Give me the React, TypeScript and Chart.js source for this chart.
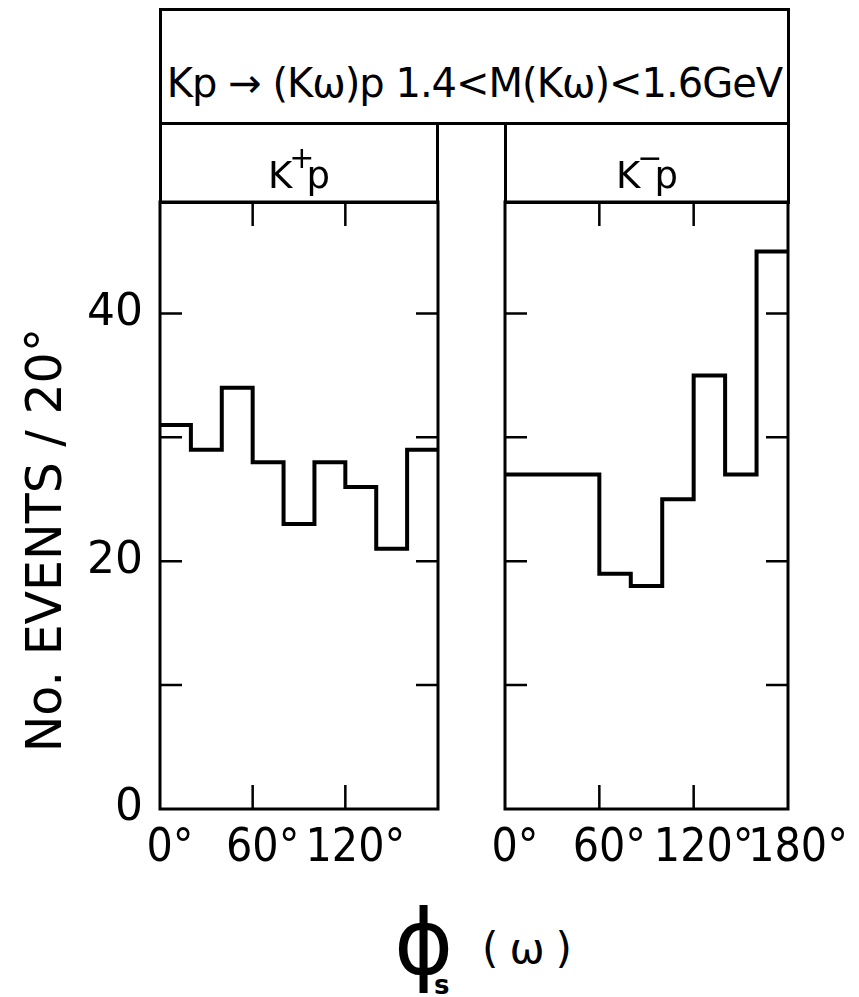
import React, { useEffect, useRef } from 'react';
import { Chart, registerables } from 'chart.js';

Chart.register(...registerables);

// ---- data ----
const BIN_EDGES_DEG = [0, 20, 40, 60, 80, 100, 120, 140, 160, 180];
const KPLUS_P_COUNTS = [31, 29, 34, 28, 23, 28, 26, 21, 29];
const KMINUS_P_COUNTS = [27, 27, 27, 19, 18, 25, 35, 27, 45];
const Y_LABELED_TICKS = [0, 20, 40];
const Y_TICK_MARKS = [10, 20, 30, 40];
const X_TICK_MARKS = [60, 120];
const X_LABELS_LEFT: Record<number, string> = { 0: '0°', 60: '60°', 120: '120°' };
const X_LABELS_RIGHT: Record<number, string> = { 0: '0°', 60: '60°', 120: '120°', 180: '180°' };
const Y_MAX = 49;
const TITLE = 'Kp → (Kω)p  1.4<M(Kω)<1.6GeV';
const Y_TITLE = 'No. EVENTS / 20°';

const FONT = "'DejaVu Sans', sans-serif";
const FONT_COND = "'DejaVu Sans Condensed', 'DejaVu Sans', sans-serif";

const framePlugin = {
  id: 'frameTicks',
  afterDatasetsDraw(chart: any) {
    const { ctx, chartArea } = chart;
    const { left, right, top, bottom } = chartArea;
    const xs = chart.scales.x;
    const ys = chart.scales.y;
    ctx.save();
    ctx.strokeStyle = '#000';
    ctx.lineWidth = 3;
    ctx.strokeRect(left, top, right - left, bottom - top);
    ctx.lineWidth = 2.5;
    const L = 22;
    ctx.beginPath();
    for (const v of Y_TICK_MARKS) {
      const y = ys.getPixelForValue(v);
      ctx.moveTo(left, y);
      ctx.lineTo(left + L, y);
      ctx.moveTo(right, y);
      ctx.lineTo(right - L, y);
    }
    for (const v of X_TICK_MARKS) {
      const x = xs.getPixelForValue(v);
      ctx.moveTo(x, bottom);
      ctx.lineTo(x, bottom - L - 2);
      ctx.moveTo(x, top);
      ctx.lineTo(x, top + L + 2);
    }
    ctx.stroke();
    ctx.restore();
  },
};

function makeConfig(
  counts: number[],
  labels: Record<number, string>,
  showY: boolean,
  padLeft: number,
  padRight: number
): any {
  const points = BIN_EDGES_DEG.map((x, i) => ({ x, y: counts[Math.min(i, counts.length - 1)] }));
  return {
    type: 'line',
    data: {
      datasets: [
        {
          data: points,
          stepped: 'before',
          borderColor: '#000',
          borderWidth: 4,
          pointRadius: 0,
          fill: false,
          borderJoinStyle: 'miter',
          borderCapStyle: 'butt',
        },
      ],
    },
    options: {
      animation: false,
      responsive: false,
      maintainAspectRatio: false,
      events: [],
      layout: { padding: { left: padLeft, right: padRight, top: 12, bottom: 0 } },
      plugins: {
        legend: { display: false },
        tooltip: { enabled: false },
        title: { display: false },
      },
      scales: {
        x: {
          type: 'linear',
          min: 0,
          max: 180,
          grid: { display: false, drawTicks: false },
          border: { display: false },
          ticks: {
            stepSize: 60,
            autoSkip: false,
            maxRotation: 0,
            minRotation: 0,
            includeBounds: false,
            padding: 12,
            labelOffset: 10,
            color: '#000',
            font: { family: FONT_COND, size: 46 },
            callback: (v: number) => labels[v] ?? '',
          },
          afterFit: (s: any) => {
            s.height = 81;
            s.paddingLeft = 0;
            s.paddingRight = 0;
          },
        },
        y: {
          display: showY,
          min: 0,
          max: Y_MAX,
          grid: { display: false, drawTicks: false },
          border: { display: false },
          ticks: {
            stepSize: 10,
            autoSkip: false,
            includeBounds: false,
            padding: 17,
            color: '#000',
            font: { family: FONT, size: 44 },
            callback: (v: number) => (Y_LABELED_TICKS.includes(v) ? String(v) : ''),
          },
          afterFit: (s: any) => {
            s.width = showY ? 160 : 0;
            s.paddingTop = 0;
            s.paddingBottom = 0;
          },
        },
      },
    },
    plugins: [framePlugin],
  };
}

function HistPanel(props: {
  counts: number[];
  labels: Record<number, string>;
  showY: boolean;
  left: number;
  top: number;
  width: number;
  height: number;
  padLeft: number;
  padRight: number;
}) {
  const ref = useRef<HTMLCanvasElement | null>(null);
  useEffect(() => {
    if (!ref.current) return;
    const chart = new Chart(
      ref.current,
      makeConfig(props.counts, props.labels, props.showY, props.padLeft, props.padRight)
    );
    return () => chart.destroy();
  }, []);
  return (
    <canvas
      ref={ref}
      width={props.width}
      height={props.height}
      style={{
        position: 'absolute',
        left: props.left,
        top: props.top,
        width: props.width,
        height: props.height,
        display: 'block',
      }}
    />
  );
}

export default function App() {
  const box: React.CSSProperties = {
    position: 'absolute',
    boxSizing: 'border-box',
    border: '3px solid #000',
  };
  const txt: React.CSSProperties = {
    position: 'absolute',
    fontFamily: FONT,
    color: '#000',
    whiteSpace: 'nowrap',
  };
  return (
    <div
      style={{
        position: 'absolute',
        left: 0,
        top: 0,
        width: 859,
        height: 997,
        background: '#fff',
        overflow: 'hidden',
      }}
    >
      <HistPanel
        counts={KPLUS_P_COUNTS}
        labels={X_LABELS_LEFT}
        showY={true}
        left={0}
        top={190}
        width={450}
        height={700}
        padLeft={0}
        padRight={12}
      />
      <HistPanel
        counts={KMINUS_P_COUNTS}
        labels={X_LABELS_RIGHT}
        showY={false}
        left={470}
        top={190}
        width={389}
        height={700}
        padLeft={35}
        padRight={71}
      />

      {/* header boxes */}
      <div style={{ ...box, left: 159, top: 8, width: 631, height: 117 }} />
      <div style={{ ...box, left: 159, top: 122, width: 280, height: 82 }} />
      <div style={{ ...box, left: 504, top: 122, width: 286, height: 82 }} />

      <div
        style={{
          ...txt,
          left: 159,
          width: 631,
          top: 63,
          fontSize: 40,
          lineHeight: '40px',
          letterSpacing: -1,
          textAlign: 'center',
        }}
      >
        {TITLE}
      </div>

      <div style={{ ...txt, left: 159, width: 280, top: 157, fontSize: 37, lineHeight: '37px', textAlign: 'center' }}>
        K<span style={{ fontSize: 30, position: 'relative', top: -20, marginLeft: -3, marginRight: -8 }}>+</span>p
      </div>
      <div style={{ ...txt, left: 504, width: 286, top: 157, fontSize: 37, lineHeight: '37px', textAlign: 'center' }}>
        K<span style={{ fontSize: 30, position: 'relative', top: -20, marginLeft: -3, marginRight: -8 }}>−</span>p
      </div>

      {/* y axis title */}
      <div
        style={{
          ...txt,
          left: 45 - 260,
          top: 540 - 30,
          width: 520,
          height: 60,
          fontSize: 49,
          lineHeight: '60px',
          textAlign: 'center',
          transform: 'rotate(-90deg)',
        }}
      >
        {Y_TITLE}
      </div>

      {/* x axis title */}
      <div style={{ ...txt, left: 394, top: 898, fontSize: 90, lineHeight: '90px' }}>ϕ</div>
      <div style={{ ...txt, left: 434, top: 972, fontSize: 26, lineHeight: '26px', fontWeight: 'bold' }}>s</div>
      <div style={{ ...txt, left: 482, top: 928, fontSize: 42, lineHeight: '42px', letterSpacing: 11 }}>(ω)</div>
    </div>
  );
}
